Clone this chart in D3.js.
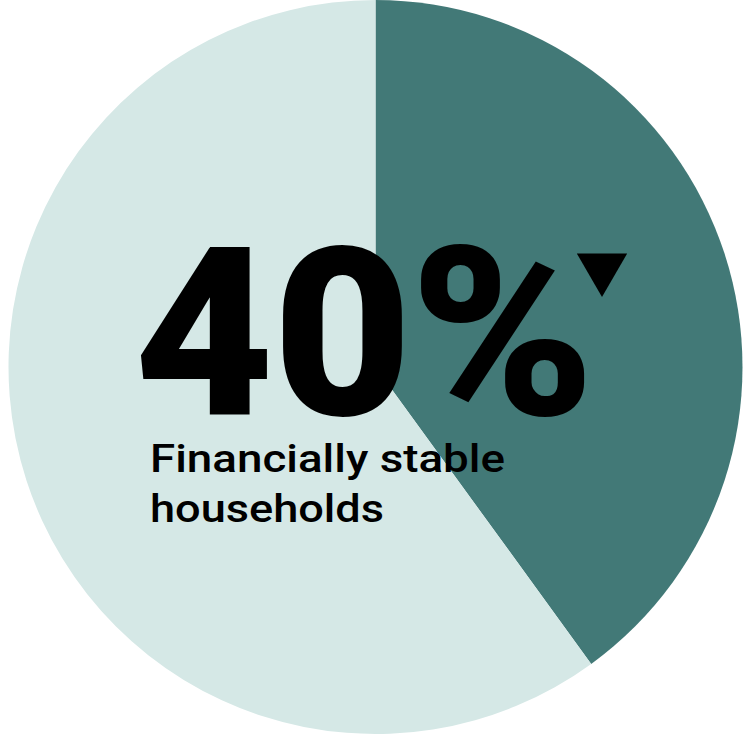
<!DOCTYPE html>
<html>
<head>
<meta charset="utf-8">
<script src="https://cdn.jsdelivr.net/npm/d3@7"></script>
<style>
  html, body { margin: 0; padding: 0; background: #ffffff; }
  svg { display: block; }
</style>
</head>
<body>
<svg id="chart" width="743" height="736"></svg>
<script>
// Share of households by financial situation
const categories = ["Financially stable", "Other"];
const shares = [40, 60];
const colors = ["#427977", "#d5e8e6"];
const headlineGlyphs = ["4", "0", "%"];
const captionLines = ["Financially stable", "households"];

const width = 743, height = 736;
const cx = 375.5, cy = 367, radius = 367;

const svg = d3.select("#chart");

const pie = d3.pie().sort(null).value(d => d.value);
const arc = d3.arc().innerRadius(0).outerRadius(radius);

const data = categories.map((c, i) => ({ name: c, value: shares[i] }));

const color = d3.scaleOrdinal().domain(categories).range(colors);

const g = svg.append("g").attr("transform", `translate(${cx},${cy})`);

g.selectAll("path")
  .data(pie(data))
  .join("path")
  .attr("d", arc)
  .attr("fill", d => color(d.data.name));

// Big percentage label, set glyph by glyph so the heavy face spreads wide
const glyphBoxes = [
  { x: 134, w: 140 },
  { x: 273, w: 139 },
  { x: 410, w: 185 }
];
svg.append("g")
  .selectAll("text")
  .data(headlineGlyphs)
  .join("text")
  .attr("x", (d, i) => glyphBoxes[i].x)
  .attr("y", 415)
  .attr("font-family", "Roboto, 'Liberation Sans', sans-serif")
  .attr("font-weight", 900)
  .attr("font-size", 236)
  .attr("textLength", (d, i) => glyphBoxes[i].w)
  .attr("lengthAdjust", "spacingAndGlyphs")
  .attr("fill", "#000")
  .text(d => d);

// Downward marker next to the figure
const tri = d3.symbol().type(d3.symbolTriangle).size(1100);
svg.append("path")
  .attr("d", tri())
  .attr("transform", "translate(602,268) rotate(180)")
  .attr("fill", "#000");

// Caption below the figure
const captionWidths = [355, 234];
svg.append("g")
  .selectAll("text")
  .data(captionLines)
  .join("text")
  .attr("x", 150)
  .attr("y", (d, i) => 471.5 + i * 50)
  .attr("font-family", "Roboto, 'Liberation Sans', sans-serif")
  .attr("font-weight", 500)
  .attr("font-size", 39)
  .attr("textLength", (d, i) => captionWidths[i])
  .attr("lengthAdjust", "spacingAndGlyphs")
  .attr("fill", "#000")
  .text(d => d);
</script>
</body>
</html>
